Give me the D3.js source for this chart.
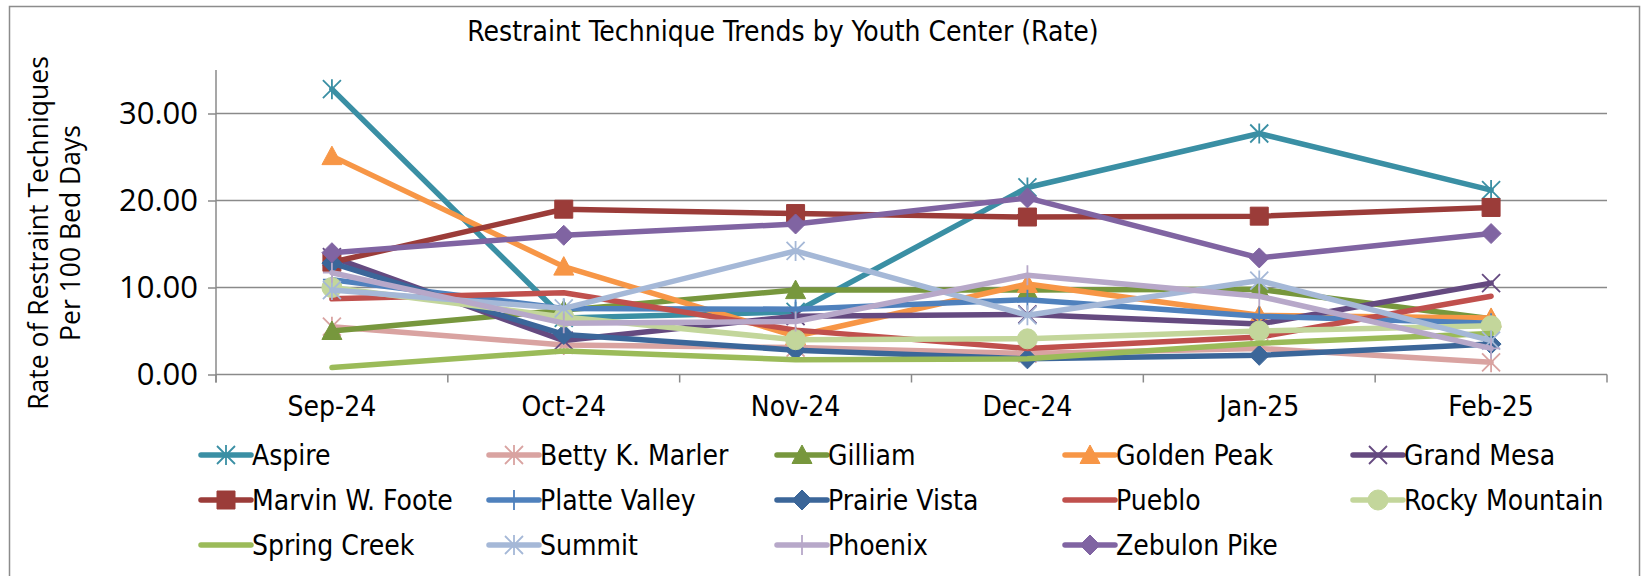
<!DOCTYPE html>
<html>
<head>
<meta charset="utf-8">
<script src="https://cdn.jsdelivr.net/npm/d3@7"></script>
<style>
  body { margin: 0; background: #fff; }
  svg { display: block; }
</style>
</head>
<body>
<div id="chart"></div>
<script>
// months along the x axis
var months = ["Sep-24", "Oct-24", "Nov-24", "Dec-24", "Jan-25", "Feb-25"];

// rates per 100 bed days
var aspire        = [32.8, 6.5, 7.2, 21.5, 27.7, 21.2];
var bettyMarler   = [5.5, 3.4, 3.1, 2.4, 3.0, 1.4];
var gilliam       = [5.0, 7.4, 9.7, 9.7, 9.8, 6.4];
var goldenPeak    = [25.1, 12.4, 4.4, 10.4, 6.8, 6.5];
var grandMesa     = [13.5, 3.9, 6.7, 6.9, 5.8, 10.5];
var marvinFoote   = [12.9, 19.0, 18.5, 18.1, 18.2, 19.2];
var platteValley  = [10.9, 7.6, 7.5, 8.6, 6.7, 5.9];
var prairieVista  = [12.8, 4.6, 2.8, 1.8, 2.2, 3.5];
var pueblo        = [8.7, 9.4, 5.1, 3.0, 4.3, 9.0];
var rockyMountain = [10.0, 6.6, 4.0, 4.1, 5.0, 5.6];
var springCreek   = [0.8, 2.7, 1.7, 1.8, 3.6, 4.7];
var summit        = [9.7, 7.6, 14.2, 6.8, 10.8, 3.9];
var phoenix       = [11.7, 5.9, 6.1, 11.4, 9.0, 3.0];
var zebulonPike   = [14.0, 16.0, 17.3, 20.3, 13.4, 16.2];

var yTicks = [0, 10, 20, 30];

var series = [
  {name: "Aspire", values: aspire, color: "#3a8fa4", marker: "asterisk"},
  {name: "Betty K. Marler", values: bettyMarler, color: "#d9a3a1", marker: "asterisk"},
  {name: "Gilliam", values: gilliam, color: "#77973d", marker: "triangle"},
  {name: "Golden Peak", values: goldenPeak, color: "#f79646", marker: "triangle"},
  {name: "Grand Mesa", values: grandMesa, color: "#654a80", marker: "x"},
  {name: "Marvin W. Foote", values: marvinFoote, color: "#9b3c39", marker: "square"},
  {name: "Platte Valley", values: platteValley, color: "#4f81bd", marker: "plus"},
  {name: "Prairie Vista", values: prairieVista, color: "#3b6699", marker: "diamond"},
  {name: "Pueblo", values: pueblo, color: "#c0504d", marker: "none"},
  {name: "Rocky Mountain", values: rockyMountain, color: "#c3d69b", marker: "circle"},
  {name: "Spring Creek", values: springCreek, color: "#9bbb59", marker: "none"},
  {name: "Summit", values: summit, color: "#a5b8d7", marker: "asterisk"},
  {name: "Phoenix", values: phoenix, color: "#b7a8c9", marker: "plus"},
  {name: "Zebulon Pike", values: zebulonPike, color: "#8064a2", marker: "diamond"}
];

var W = 1642, H = 576;
var plot = {left: 216, right: 1607, top: 70, bottom: 374.5};
var gridColor = "#8a8a8a";
var labelFont = "'DejaVu Sans Condensed', 'DejaVu Sans', sans-serif";
var tickFont = "'Open Sans', 'Noto Sans', sans-serif";

var svg = d3.select("#chart").append("svg")
  .attr("width", W)
  .attr("height", H);

// outer chart border
svg.append("rect")
  .attr("x", 9.5).attr("y", 6.5)
  .attr("width", 1630).attr("height", 600)
  .attr("fill", "none")
  .attr("stroke", "#8c8c8c")
  .attr("stroke-width", 1.5);

var x = d3.scaleBand()
  .domain(months)
  .range([plot.left, plot.right]);

var y = d3.scaleLinear()
  .domain([0, 35])
  .range([plot.bottom, plot.top]);

function cx(i) { return x(months[i]) + x.bandwidth() / 2; }

// gridlines
svg.append("g")
  .selectAll("line")
  .data(yTicks.filter(function(d){ return d > 0; }))
  .enter().append("line")
    .attr("x1", plot.left).attr("x2", plot.right)
    .attr("y1", function(d){ return y(d); })
    .attr("y2", function(d){ return y(d); })
    .attr("stroke", gridColor)
    .attr("stroke-width", 1.5);

// y axis
var yAxis = d3.axisLeft(y)
  .tickValues(yTicks)
  .tickFormat(d3.format(".2f"))
  .tickSize(8)
  .tickPadding(10);

var yGuide = svg.append("g")
  .attr("transform", "translate(" + plot.left + ",0)")
  .call(yAxis);
yGuide.select(".domain").remove();
yGuide.append("line")
  .attr("y1", plot.top).attr("y2", plot.bottom + 8)
  .attr("stroke", gridColor).attr("stroke-width", 1.5);
yGuide.selectAll(".tick line").attr("stroke", gridColor).attr("stroke-width", 1.5);
yGuide.selectAll(".tick text")
  .attr("fill", "#000")
  .style("font-family", tickFont)
  .style("font-size", "31px");

// x axis
var xAxis = d3.axisBottom(x).tickSize(0).tickPadding(22);
var xGuide = svg.append("g")
  .attr("transform", "translate(0," + plot.bottom + ")")
  .call(xAxis);
xGuide.select(".domain").remove();
xGuide.append("line")
  .attr("x1", plot.left).attr("x2", plot.right)
  .attr("stroke", gridColor).attr("stroke-width", 1.5);
xGuide.selectAll(".bound")
  .data(d3.range(months.length + 1))
  .enter().append("line")
    .attr("x1", function(i){ return plot.left + i * x.step(); })
    .attr("x2", function(i){ return plot.left + i * x.step(); })
    .attr("y1", 0).attr("y2", 8)
    .attr("stroke", gridColor).attr("stroke-width", 1.5);
xGuide.selectAll(".tick text")
  .attr("fill", "#000")
  .style("font-family", labelFont)
  .style("font-size", "28px");

// marker shapes
function markerPath(type) {
  var p = d3.path();
  if (type == "square") {
    p.rect(-9, -9, 18, 18);
  } else if (type == "triangle") {
    p.moveTo(0, -10); p.lineTo(10, 8.5); p.lineTo(-10, 8.5); p.closePath();
  } else if (type == "diamond") {
    p.moveTo(0, -10); p.lineTo(10, 0); p.lineTo(0, 10); p.lineTo(-10, 0); p.closePath();
  } else if (type == "circle") {
    p.arc(0, 0, 10, 0, 2 * Math.PI);
  } else if (type == "x") {
    p.moveTo(-9, -9); p.lineTo(9, 9); p.moveTo(9, -9); p.lineTo(-9, 9);
  } else if (type == "asterisk") {
    p.moveTo(-9, -9); p.lineTo(9, 9); p.moveTo(9, -9); p.lineTo(-9, 9);
    p.moveTo(0, -10); p.lineTo(0, 10);
  } else if (type == "plus") {
    p.moveTo(0, -10); p.lineTo(0, 10); p.moveTo(-9, 0); p.lineTo(9, 0);
  }
  return p.toString();
}
function isStroked(type) { return type == "x" || type == "asterisk" || type == "plus"; }

function drawMarker(g, s, px, py) {
  if (s.marker == "none") return;
  var m = g.append("path")
    .attr("d", markerPath(s.marker))
    .attr("transform", "translate(" + px + "," + py + ")");
  if (isStroked(s.marker)) {
    m.attr("fill", "none").attr("stroke", s.color).attr("stroke-width", 1.8);
  } else {
    m.attr("fill", s.color).attr("stroke", s.color).attr("stroke-width", 1);
  }
}

var line = d3.line()
  .x(function(d, i){ return cx(i); })
  .y(function(d){ return y(d); });

var lines = svg.append("g");
series.forEach(function(s) {
  var g = lines.append("g");
  g.append("path")
    .attr("d", line(s.values))
    .attr("fill", "none")
    .attr("stroke", s.color)
    .attr("stroke-width", 5.5)
    .attr("stroke-linejoin", "round")
    .attr("stroke-linecap", "round");
  s.values.forEach(function(v, i) {
    drawMarker(g, s, cx(i), y(v));
  });
});

// title
svg.append("text")
  .attr("x", 783).attr("y", 41)
  .attr("text-anchor", "middle")
  .style("font-family", labelFont)
  .style("font-size", "28px")
  .text("Restraint Technique Trends by Youth Center (Rate)");

// y axis title
var yTitle = svg.append("text")
  .attr("transform", "translate(0,233) rotate(-90)")
  .attr("text-anchor", "middle")
  .style("font-family", tickFont)
  .style("font-size", "26.5px");
yTitle.append("tspan").attr("x", 0).attr("y", 48).text("Rate of Restraint Techniques");
yTitle.append("tspan").attr("x", 0).attr("y", 80).text("Per 100 Bed Days");

// legend
var legendCols = 5, colStep = 288, rowStep = 45;
var legend = svg.append("g").attr("transform", "translate(201,455)");
series.forEach(function(s, i) {
  var col = i % legendCols, row = Math.floor(i / legendCols);
  var g = legend.append("g")
    .attr("transform", "translate(" + (col * colStep) + "," + (row * rowStep) + ")");
  g.append("line")
    .attr("x1", 0).attr("x2", 50)
    .attr("stroke", s.color)
    .attr("stroke-width", 5.5)
    .attr("stroke-linecap", "round");
  drawMarker(g, s, 25, 0);
  g.append("text")
    .attr("x", 51).attr("y", 0)
    .attr("dy", "0.36em")
    .style("font-family", labelFont)
    .style("font-size", "28px")
    .text(s.name);
});
</script>
</body>
</html>
